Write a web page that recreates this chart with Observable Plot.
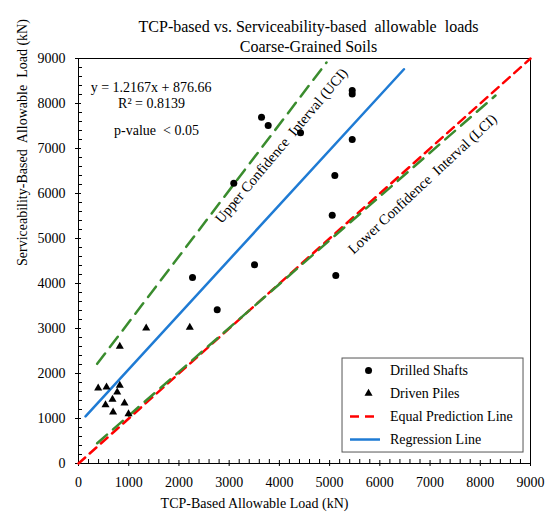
<!DOCTYPE html>
<html>
<head>
<meta charset="utf-8">
<script src="https://cdn.jsdelivr.net/npm/d3@7"></script>
<script src="https://cdn.jsdelivr.net/npm/@observablehq/plot@0.6"></script>
<style>
  body { margin: 0; background: #fff; }
  #chart svg { display: block; }
  #chart svg text { font-family: "Liberation Serif", "Times New Roman", serif; }
</style>
</head>
<body>
<div id="chart"></div>
<script>
// Drilled shafts: TCP-based vs. serviceability-based allowable load (kN)
const drilledTcp = [5450, 5450, 3644, 3777, 4421, 5450, 5104, 5052, 3505, 5123, 3092, 2762, 2270];
const drilledSvc = [8290, 8210, 7696, 7511, 7349, 7200, 6400, 5518, 4416, 4178, 6229, 3416, 4133];

// Driven piles
const drivenTcp = [392, 558, 822, 771, 677, 538, 916, 689, 996, 822, 1348, 2216];
const drivenSvc = [1673, 1696, 1733, 1584, 1422, 1304, 1340, 1140, 1104, 2600, 3007, 3022];

// Regression fit
const slope = 1.2167;
const intercept = 876.66;
const rSquared = 0.8139;
const regressionTcp = [140, 6480];

// Equal prediction line (y = x)
const equalTcp = [0, 9000];

// Confidence interval bounds
const uciTcp = [372, 4938];
const uciSvc = [2215, 8911];
const lciTcp = [372, 8303];
const lciSvc = [451, 8178];

// Axis ticks
const majorTicks = d3.range(0, 9001, 1000);
const minorTicks = d3.range(0, 9001, 200).filter(v => v % 1000 !== 0);

const titleText = "TCP-based vs. Serviceability-based  allowable  loads";
const subtitleText = "Coarse-Grained Soils";
const xLabel = "TCP-Based Allowable Load (kN)";
const yLabel = "Serviceability-Based  Allowable  Load (kN)";
const legendLabels = ["Drilled Shafts", "Driven Piles", "Equal Prediction Line", "Regression Line"];

const RED = "#ff0000", GREEN = "#3a8c2e", BLUE = "#1f7bd4";
const serif = "Liberation Serif";
const fmt = d3.format("d");

const drilled = drilledTcp.map((x, i) => ({x, y: drilledSvc[i]}));
const driven = drivenTcp.map((x, i) => ({x, y: drivenSvc[i]}));
const regression = regressionTcp.map(x => ({x, y: slope * x + intercept}));
const equal = equalTcp.map(x => ({x, y: x}));
const uci = uciTcp.map((x, i) => ({x, y: uciSvc[i]}));
const lci = lciTcp.map((x, i) => ({x, y: lciSvc[i]}));

// Annotation anchors (data space)
const equationNotes = [
  {x: 1444, y: 8356, text: `y = ${slope}x + ${intercept}`},
  {x: 1454, y: 8000, text: `R² = ${rSquared}`},
  {x: 1554, y: 7400, text: "p-value  < 0.05"}
];
const intervalNotes = [
  {x: 4040, y: 7060, rotate: -50, text: "Upper Confidence  Interval (UCI)"},
  {x: 6850, y: 6210, rotate: -43, text: "Lower Confidence  Interval (LCI)"}
];

// Legend layout (data space)
const lg = {x1: 5257, x2: 8861, y1: 244, y2: 2333, sym: 5775, s1: 5416, s2: 6013, tx: 6200, rows: [2067, 1556, 1044, 533]};
const legendRows = legendLabels.map((text, i) => ({text, y: lg.rows[i]}));

const txt = {fontFamily: serif, fill: "black"};

const chart = Plot.plot({
  width: 549,
  height: 513,
  marginLeft: 78,
  marginRight: 19,
  marginTop: 58,
  marginBottom: 50,
  style: {fontFamily: serif, fontSize: "14px", color: "black", background: "white"},
  x: {domain: [0, 9000]},
  y: {domain: [0, 9000]},
  marks: [
    // axes: major ticks cross the axis, minor ticks point inward
    Plot.axisX(majorTicks, {tickSize: 3, tickPadding: 11, fontSize: 14, fontFamily: serif, tickFormat: fmt, label: null}),
    Plot.axisX(majorTicks, {tickSize: -3, fill: "none", label: null}),
    Plot.axisX(minorTicks, {tickSize: -4, fill: "none", label: null}),
    Plot.axisY(majorTicks, {tickSize: 3, tickPadding: 10, fontSize: 14, fontFamily: serif, tickFormat: fmt, label: null}),
    Plot.axisY(majorTicks, {tickSize: -3, fill: "none", label: null}),
    Plot.axisY(minorTicks, {tickSize: -4, fill: "none", label: null}),
    Plot.frame({stroke: "black", strokeWidth: 1}),

    // reference lines
    Plot.line(equal, {x: "x", y: "y", stroke: RED, strokeWidth: 2.5, strokeDasharray: "9,6"}),
    Plot.line(uci, {x: "x", y: "y", stroke: GREEN, strokeWidth: 2.5, strokeDasharray: "13,8"}),
    Plot.line(lci, {x: "x", y: "y", stroke: GREEN, strokeWidth: 2.5, strokeDasharray: "13,8"}),
    Plot.line(regression, {x: "x", y: "y", stroke: BLUE, strokeWidth: 2.5}),

    // observations
    Plot.dot(drilled, {x: "x", y: "y", r: 3.5, fill: "black", stroke: "none"}),
    Plot.dot(driven, {x: "x", y: "y", r: 3, symbol: "triangle", fill: "black", stroke: "none"}),

    // annotations
    Plot.text(equationNotes, {x: "x", y: "y", text: "text", fontSize: 14, ...txt}),
    Plot.text(intervalNotes, {x: "x", y: "y", text: "text", rotate: "rotate", fontSize: 14.5, ...txt}),

    // titles and axis labels
    Plot.text([titleText], {frameAnchor: "top", dx: 4, dy: -38, fontSize: 16, ...txt}),
    Plot.text([subtitleText], {frameAnchor: "top", dx: 4, dy: -18, fontSize: 16, ...txt}),
    Plot.text([xLabel], {frameAnchor: "bottom", dx: -50, dy: 44, fontSize: 14, ...txt}),
    Plot.text([yLabel], {frameAnchor: "left", dx: -56, dy: 5, rotate: -90, fontSize: 14, ...txt}),

    // legend
    Plot.rect([lg], {x1: "x1", x2: "x2", y1: "y1", y2: "y2", fill: "white", stroke: "#555", strokeWidth: 1}),
    Plot.dot([legendRows[0]], {x: () => lg.sym, y: "y", r: 3.5, fill: "black", stroke: "none"}),
    Plot.dot([legendRows[1]], {x: () => lg.sym, y: "y", r: 3, symbol: "triangle", fill: "black", stroke: "none"}),
    Plot.ruleY([legendRows[2]], {x1: () => lg.s1, x2: () => lg.s2, y: "y", stroke: RED, strokeWidth: 2.5, strokeDasharray: "9,6"}),
    Plot.ruleY([legendRows[3]], {x1: () => lg.s1, x2: () => lg.s2, y: "y", stroke: BLUE, strokeWidth: 2.5}),
    Plot.text(legendRows, {x: () => lg.tx, y: "y", text: "text", textAnchor: "start", fontSize: 14, ...txt})
  ]
});

document.getElementById("chart").appendChild(chart);
</script>
</body>
</html>
